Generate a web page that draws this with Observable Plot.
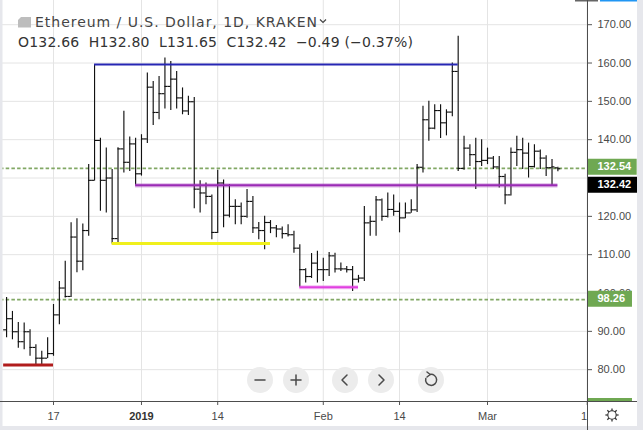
<!DOCTYPE html>
<html>
<head>
<meta charset="utf-8">
<script src="https://cdn.jsdelivr.net/npm/d3@7"></script>
<script src="https://cdn.jsdelivr.net/npm/@observablehq/plot@0.6"></script>
<style>
html, body { margin: 0; padding: 0; background: #fff; }
#wrap { position: relative; width: 643px; height: 430px; overflow: hidden; background: #fff; }
#wrap > svg { display: block; position: absolute; left: 0; top: 0; }
</style>
</head>
<body>
<div id="wrap"></div>
<script>
// ---------- data ----------
const firstDay = "2018-12-09";
const lastDay = "2019-03-14"; // exclusive
const open = [
  90.4, 93.3, 89.9, 87.3, 89.9, 85.8, 83.0, 83.0, 84.2, 94.3, 101.3, 99.1, 114.6, 108.3, 116.3, 129.4, 139.8, 129.4, 130.0, 114.2, 137.6, 134.1, 138.9,
  131.1, 140.2, 153.7, 147.1, 152.0, 153.9, 155.8, 150.9, 147.5, 149.9, 127.1, 126.1, 125.2, 115.8, 128.7, 120.3, 122.6, 122.6, 120.0, 123.9, 117.0, 116.3, 118.4, 117.0, 116.7, 115.5, 115.2, 111.7, 106.1, 104.3, 107.8,
  106.1, 106.1, 109.7, 106.3, 106.3, 106.1, 103.6, 103.9, 118.3, 118.7, 124.3, 120.0, 121.8, 121.3, 119.6, 120.9, 121.7, 132.8, 145.2, 143.0, 147.6, 144.4, 147.2, 157.8, 132.5, 137.8, 136.1, 134.3,
  134.6, 135.2, 132.9, 130.4, 125.6, 136.7, 137.4, 136.5, 133.0, 137.0, 135.2, 132.7, 132.66
];
const high = [
  98.8, 95.2, 92.3, 92.2, 90.4, 86.5, 84.8, 88.3, 97.0, 103.0, 108.3, 118.3, 119.4, 118.0, 133.5, 159.6, 140.4, 137.8, 132.2, 137.9, 147.4, 140.7, 140.4,
  141.3, 157.4, 155.2, 156.5, 161.3, 160.4, 157.8, 153.5, 151.3, 151.0, 129.3, 128.7, 125.6, 132.0, 129.5, 128.3, 124.3, 123.5, 127.0, 125.2, 118.4, 120.0, 118.9, 117.6, 117.2, 117.8, 116.1, 112.6, 106.3, 110.3, 110.9,
  109.1, 110.6, 110.4, 107.8, 106.9, 106.9, 104.6, 122.6, 120.0, 125.2, 124.5, 126.1, 125.6, 123.5, 123.5, 124.3, 133.5, 148.7, 150.0, 149.1, 149.1, 147.8, 160.0, 167.0, 140.9, 138.7, 140.4, 140.0,
  137.8, 135.6, 135.6, 131.0, 137.8, 140.9, 140.4, 139.1, 138.7, 137.3, 135.8, 134.8, 132.80
];
const low = [
  88.3, 87.8, 85.6, 85.2, 83.5, 81.3, 81.2, 82.9, 83.5, 91.7, 98.7, 98.8, 105.3, 105.8, 114.8, 129.2, 121.3, 120.9, 112.8, 113.0, 131.3, 131.7, 128.1,
  130.5, 139.0, 143.7, 145.2, 148.0, 147.6, 148.0, 146.5, 146.3, 122.0, 120.9, 123.0, 113.9, 115.5, 117.0, 119.6, 117.8, 117.8, 119.5, 115.5, 113.9, 111.3, 115.5, 114.4, 114.1, 114.6, 110.4, 101.5, 102.6, 103.8, 102.6,
  103.0, 104.3, 105.2, 105.6, 105.2, 100.4, 102.6, 103.0, 114.8, 114.8, 118.7, 119.6, 120.0, 115.7, 119.4, 120.8, 121.0, 131.3, 139.6, 142.6, 140.3, 141.0, 146.0, 131.7, 132.0, 133.0, 127.0, 133.0,
  133.5, 132.2, 127.4, 123.0, 125.3, 133.0, 132.2, 130.0, 132.6, 132.2, 130.4, 127.8, 131.65
];
const close = [
  93.3, 89.9, 87.3, 89.9, 85.8, 83.0, 83.0, 84.2, 94.3, 101.3, 99.1, 114.6, 108.3, 116.3, 129.4, 139.8, 129.4, 130.0, 114.2, 137.6, 134.1, 138.9, 131.1,
  140.2, 153.7, 147.1, 152.0, 153.9, 155.8, 150.9, 147.5, 149.9, 127.1, 126.1, 125.2, 115.8, 128.7, 120.3, 122.6, 122.6, 120.0, 123.9, 117.0, 116.3, 118.4, 117.0, 116.7, 115.5, 115.2, 111.7, 106.1, 104.3, 107.8, 106.1,
  106.1, 109.7, 106.3, 106.3, 106.1, 103.6, 103.9, 118.3, 118.7, 124.3, 120.0, 121.8, 121.3, 119.6, 120.9, 121.7, 132.8, 145.2, 143.0, 147.6, 144.4, 147.2, 157.8, 132.5, 137.8, 136.1, 134.3, 134.6,
  135.2, 132.9, 130.4, 125.6, 136.7, 137.4, 136.5, 133.0, 137.0, 135.2, 132.7, 132.91, 132.42
];

// drawn horizontal segments
const segStart = ["2018-12-08T12:00Z", "2018-12-27T00:00Z", "2018-12-24T00:00Z", "2018-12-31T00:00Z", "2019-01-28T00:00Z"];
const segEnd   = ["2018-12-17T00:00Z", "2019-01-23T00:00Z", "2019-02-24T00:00Z", "2019-03-13T00:00Z", "2019-02-07T00:00Z"];
const segValue = [81.2, 112.9, 159.6, 128.1, 101.5];
const segColor = ["#b01c1c", "#f0f01c", "#2626b4", "#9a2bb5", "#e040e0"];

// dashed price lines
const priceLines = [132.54, 98.26];

// axis ticks
const yTicks = [80, 90, 100, 110, 120, 130, 140, 150, 160, 170];
const yHiddenLabel = 130; // covered by the last-price box in the reference
const xTickDates = ["2018-12-17", "2019-01-01", "2019-01-14", "2019-02-01", "2019-02-14", "2019-03-01", "2019-03-18"];
const xTickLabels = ["17", "2019", "14", "Feb", "14", "Mar", "18"];

// ---------- build ----------
const days = d3.utcDay.range(new Date(firstDay), new Date(lastDay));
const bars = days.map((d, i) => ({date: d, open: open[i], high: high[i], low: low[i], close: close[i]}));
const segs = segValue.map((v, i) => ({start: new Date(segStart[i]), end: new Date(segEnd[i]), value: v, color: segColor[i]}));
const xt = xTickDates.map(s => new Date(s));
const labelMap = new Map(xt.map((d, i) => [+d, xTickLabels[i]]));
const halfDay = 12 * 3600e3;

const xDomain = [new Date("2018-12-07T23:07Z"), new Date("2019-03-18T01:12Z")];
const yDomain = [71.70, 176.31];
const beyond = days => new Date(+xDomain[1] + days * 864e5);

const last = bars[bars.length - 1];
const prev = bars[bars.length - 2];
const chg = last.close - prev.close;
const pct = chg / prev.close * 100;
const fmtS = v => (v < 0 ? "\u2212" : "+") + Math.abs(v).toFixed(2);

const green = "#6fa852";
const barStroke = {stroke: "#111", strokeWidth: 1.15};

const chart = Plot.plot({
  width: 643,
  height: 430,
  marginLeft: 0,
  marginRight: 56,
  marginTop: 0,
  marginBottom: 29,
  style: {background: "transparent", fontFamily: "'Liberation Sans', Arial, sans-serif", fontSize: "11px", color: "#4a4a4a"},
  x: {type: "utc", domain: xDomain},
  y: {domain: yDomain},
  marks: [
    Plot.gridY(yTicks, {stroke: "#e4e4e4", strokeOpacity: 1}),
    Plot.gridX(xt, {stroke: "#e4e4e4", strokeOpacity: 1}),
    Plot.ruleY(priceLines, {y: d => d, stroke: "#82a865", strokeWidth: 1.8, strokeDasharray: "3.5,2.2"}),
    Plot.ruleX(bars, {x: "date", y1: "low", y2: "high", ...barStroke}),
    Plot.ruleY(bars, {y: "open", x1: d => new Date(+d.date - halfDay), x2: "date", ...barStroke}),
    Plot.ruleY(bars, {y: "close", x1: "date", x2: d => new Date(+d.date + halfDay), ...barStroke}),
    // glow for purple / magenta
    Plot.ruleY(segs.filter((d, i) => i >= 3), {y: "value", x1: "start", x2: "end", stroke: "color", strokeWidth: 4.2, strokeOpacity: 0.35}),
    Plot.ruleY(segs.filter((d, i) => i < 2), {y: "value", x1: "start", x2: "end", stroke: "color", strokeWidth: 3}),
    Plot.ruleY(segs.filter((d, i) => i >= 2), {y: "value", x1: "start", x2: "end", stroke: "color", strokeWidth: 2}),
    Plot.axisY(yTicks, {anchor: "right", tickSize: 4, tickPadding: 6, tickFormat: d => d === yHiddenLabel ? "" : d.toFixed(2), stroke: "#555", fill: "#4a4a4a", fontSize: 11, label: null}),
    Plot.axisX(xt, {anchor: "bottom", tickSize: 4, tickPadding: 7, tickFormat: d => labelMap.get(+d), stroke: "#555", fill: "#4a4a4a", fontSize: 11, label: null}),
    // price labels on the axis
    Plot.ruleY([priceLines[0]], {y: d => d, x1: xDomain[1], x2: beyond(8.47), stroke: green, strokeWidth: 16, dy: -1.5}),
    Plot.text([priceLines[0]], {y: d => d, text: d => d.toFixed(2), frameAnchor: "right", dx: 10, dy: -1.5, textAnchor: "start", fill: "#fff", fontWeight: "bold", fontSize: 11}),
    Plot.ruleY([last.close], {y: d => d, x1: xDomain[1], x2: beyond(8.6), stroke: "#000", strokeWidth: 16, dy: 16}),
    Plot.text([last.close], {y: d => d, text: d => d.toFixed(2), frameAnchor: "right", dx: 10, dy: 16, textAnchor: "start", fill: "#fff", fontWeight: "bold", fontSize: 11}),
    Plot.ruleY([priceLines[1]], {y: d => d, x1: xDomain[1], x2: beyond(7.67), stroke: green, strokeWidth: 16, dy: -1}),
    Plot.text([priceLines[1]], {y: d => d, text: d => d.toFixed(2), frameAnchor: "right", dx: 10, dy: -1, textAnchor: "start", fill: "#fff", fontWeight: "bold", fontSize: 11})
  ]
});
chart.querySelectorAll("text").forEach(t => {
  if (t.textContent === "2019") { t.setAttribute("font-weight", "bold"); t.setAttribute("fill", "#333"); }
});

const wrap = document.getElementById("wrap");
wrap.appendChild(chart);

// ---------- chrome overlay ----------
const NS = "http://www.w3.org/2000/svg";
const ov = document.createElementNS(NS, "svg");
ov.setAttribute("width", 643); ov.setAttribute("height", 430);
ov.style.pointerEvents = "none";
function el(tag, attrs, text) {
  const e = document.createElementNS(NS, tag);
  for (const k in attrs) e.setAttribute(k, attrs[k]);
  if (text != null) e.textContent = text;
  ov.appendChild(e);
  return e;
}
el("rect", {x: 588, y: 402, width: 49, height: 24, fill: "#fff"});
el("rect", {x: 588, y: 398, width: 44, height: 3.5, fill: green});
el("rect", {x: 0, y: 0, width: 2.5, height: 430, fill: "#e6e7ec"});
el("rect", {x: 637, y: 0, width: 6, height: 430, fill: "#e6e7ec"});
el("rect", {x: 0, y: 426, width: 643, height: 4, fill: "#e6e7ec"});
el("rect", {x: 575, y: 0, width: 23, height: 1.5, fill: "#666"});
el("rect", {x: 600, y: 0, width: 37, height: 1.5, fill: "#2196f3"});
el("line", {x1: 587.5, y1: 0, x2: 587.5, y2: 430, stroke: "#4d4d4d"});
el("line", {x1: 0, y1: 401.5, x2: 637, y2: 401.5, stroke: "#4d4d4d"});

// gear icon
const gx = 612, gy = 415;
el("circle", {cx: gx, cy: gy, r: 4.2, fill: "none", stroke: "#333", "stroke-width": 1.1});
for (let k = 0; k < 8; k++) {
  const a = k * Math.PI / 4;
  el("line", {x1: gx + 4.2 * Math.cos(a), y1: gy + 4.2 * Math.sin(a), x2: gx + 6.6 * Math.cos(a), y2: gy + 6.6 * Math.sin(a), stroke: "#333", "stroke-width": 1.3});
}

// header
el("polygon", {points: "21,17 31,17 31,27.5 18,27.5 18,20", fill: "#bdbdbd"});
el("text", {x: 35, y: 27, "font-family": "'DejaVu Sans', sans-serif", "font-size": 14, fill: "#444", textLength: 282, lengthAdjust: "spacing"}, "Ethereum / U.S. Dollar, 1D, KRAKEN");
el("polyline", {points: "320,19.5 323,22.5 326,19.5", fill: "none", stroke: "#444", "stroke-width": 1.2});
const hdr2 = `O${last.open.toFixed(2)}  H${last.high.toFixed(2)}  L${last.low.toFixed(2)}  C${last.close.toFixed(2)}  ${fmtS(chg)} (${fmtS(pct)}%)`;
el("text", {x: 18, y: 47, "font-family": "'DejaVu Sans', sans-serif", "font-size": 14, fill: "#333", "xml:space": "preserve", style: "white-space:pre", textLength: 395, lengthAdjust: "spacing"}, hdr2);

// navigation buttons
const navX = [260, 296, 345, 381, 431], navY = 380;
navX.forEach((cx, i) => {
  el("circle", {cx, cy: navY, r: 13, fill: "#ececec"});
  const s = {fill: "none", stroke: "#4a4a4a", "stroke-width": 1.5, "stroke-linecap": "round", "stroke-linejoin": "round"};
  if (i === 0) el("path", {d: `M${cx - 5},${navY}H${cx + 5}`, ...s});
  if (i === 1) el("path", {d: `M${cx - 5},${navY}H${cx + 5}M${cx},${navY - 5}V${navY + 5}`, ...s});
  if (i === 2) el("path", {d: `M${cx + 2},${navY - 5}L${cx - 3},${navY}L${cx + 2},${navY + 5}`, ...s});
  if (i === 3) el("path", {d: `M${cx - 2},${navY - 5}L${cx + 3},${navY}L${cx - 2},${navY + 5}`, ...s});
  if (i === 4) {
    el("path", {d: `M${cx - 1},${navY - 5.5}A5.5,5.5 0 1 1 ${cx - 5.2},${navY - 1.5}`, ...s});
    el("path", {d: `M${cx - 4},${navY - 8}L${cx - 0.8},${navY - 5.5}L${cx - 4},${navY - 3}`, ...s});
  }
});
wrap.appendChild(ov);
</script>
</body>
</html>
